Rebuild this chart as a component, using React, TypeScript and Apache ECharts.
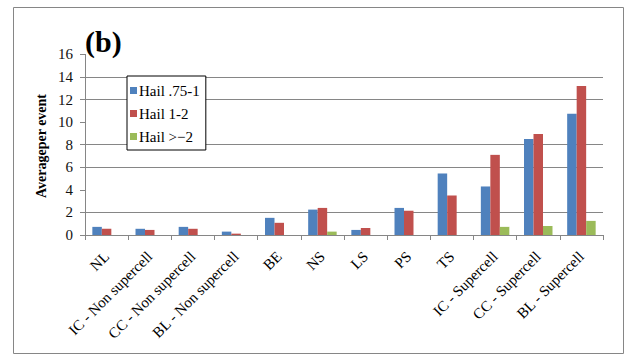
import React, { useEffect, useRef } from "react";
import * as echarts from "echarts";

const categories = [
  "NL",
  "IC - Non supercell",
  "CC - Non supercell",
  "BL - Non supercell",
  "BE",
  "NS",
  "LS",
  "PS",
  "TS",
  "IC - Supercell",
  "CC - Supercell",
  "BL - Supercell",
];

const seriesNames = ["Hail .75-1", "Hail 1-2", "Hail >\u22122"];

const hailSmall = [0.72, 0.55, 0.72, 0.3, 1.52, 2.25, 0.45, 2.4, 5.45, 4.3, 8.5, 10.75];
const hailMedium = [0.55, 0.45, 0.55, 0.12, 1.08, 2.4, 0.62, 2.15, 3.5, 7.1, 8.95, 13.2];
const hailLarge = [0, 0, 0, 0, 0, 0.3, 0, 0, 0, 0.72, 0.8, 1.25];

const yTicks = { min: 0, max: 16, interval: 2 };

const colors = ["#4F81BD", "#C0504D", "#9BBB59"];
const serif = "Liberation Serif";
const gridColor = "#868686";

export default function App() {
  const ref = useRef<HTMLDivElement>(null);

  useEffect(() => {
    if (!ref.current) return;
    const chart = echarts.init(ref.current, null, { renderer: "svg" });
    const values = [hailSmall, hailMedium, hailLarge];

    chart.setOption({
      animation: false,
      backgroundColor: "#ffffff",
      color: colors,
      textStyle: { fontFamily: serif },
      title: {
        text: "(b)",
        left: 80,
        top: 21,
        textStyle: { fontFamily: serif, fontSize: 30, fontWeight: "bold", color: "#000" },
      },
      grid: { left: 85, right: 23, top: 54.4, bottom: 121 },
      legend: {
        orient: "vertical",
        left: 127,
        top: 76,
        padding: [7, 6, 6, 3],
        itemGap: 8,
        itemWidth: 7,
        itemHeight: 7,
        icon: "rect",
        borderColor: "#000",
        borderWidth: 1,
        backgroundColor: "#fff",
        textStyle: { fontFamily: serif, fontSize: 15, color: "#000", padding: [0, 0, 0, -3] },
        data: seriesNames,
      },
      xAxis: {
        type: "category",
        data: categories,
        axisLine: { lineStyle: { color: gridColor, width: 1 } },
        axisTick: { show: true, length: 5, lineStyle: { color: gridColor } },
        axisLabel: {
          rotate: 45,
          margin: 19,
          interval: 0,
          fontFamily: serif,
          fontSize: 15,
          color: "#000",
        },
      },
      yAxis: {
        type: "value",
        min: yTicks.min,
        max: yTicks.max,
        interval: yTicks.interval,
        axisLine: { show: true, lineStyle: { color: gridColor, width: 1 } },
        axisTick: { show: true, length: 5, lineStyle: { color: gridColor } },
        axisLabel: { fontFamily: serif, fontSize: 15, color: "#111", margin: 12 },
        splitLine: {
          show: true,
          lineStyle: { color: [gridColor, gridColor, "rgba(0,0,0,0)"], width: 1 },
        },
      },
      series: seriesNames.map((name, i) => ({
        name,
        type: "bar",
        data: values[i],
        barGap: "0%",
        barCategoryGap: "34%",
        itemStyle: { color: colors[i] },
      })),
      graphic: [
        {
          type: "rect",
          shape: { x: 13.5, y: 7.5, width: 610, height: 346 },
          style: { fill: "none", stroke: gridColor, lineWidth: 1 },
          silent: true,
          z: -1,
        },
        {
          type: "text",
          x: 41,
          y: 146,
          rotation: Math.PI / 2,
          style: {
            text: "Averageper event",
            fontFamily: serif,
            fontSize: 14,
            fontWeight: "bold",
            fill: "#000",
            align: "center",
            verticalAlign: "middle",
          },
        },
      ],
    });

    return () => chart.dispose();
  }, []);

  return <div ref={ref} style={{ width: 626, height: 356, position: "absolute", left: 0, top: 0 }} />;
}
